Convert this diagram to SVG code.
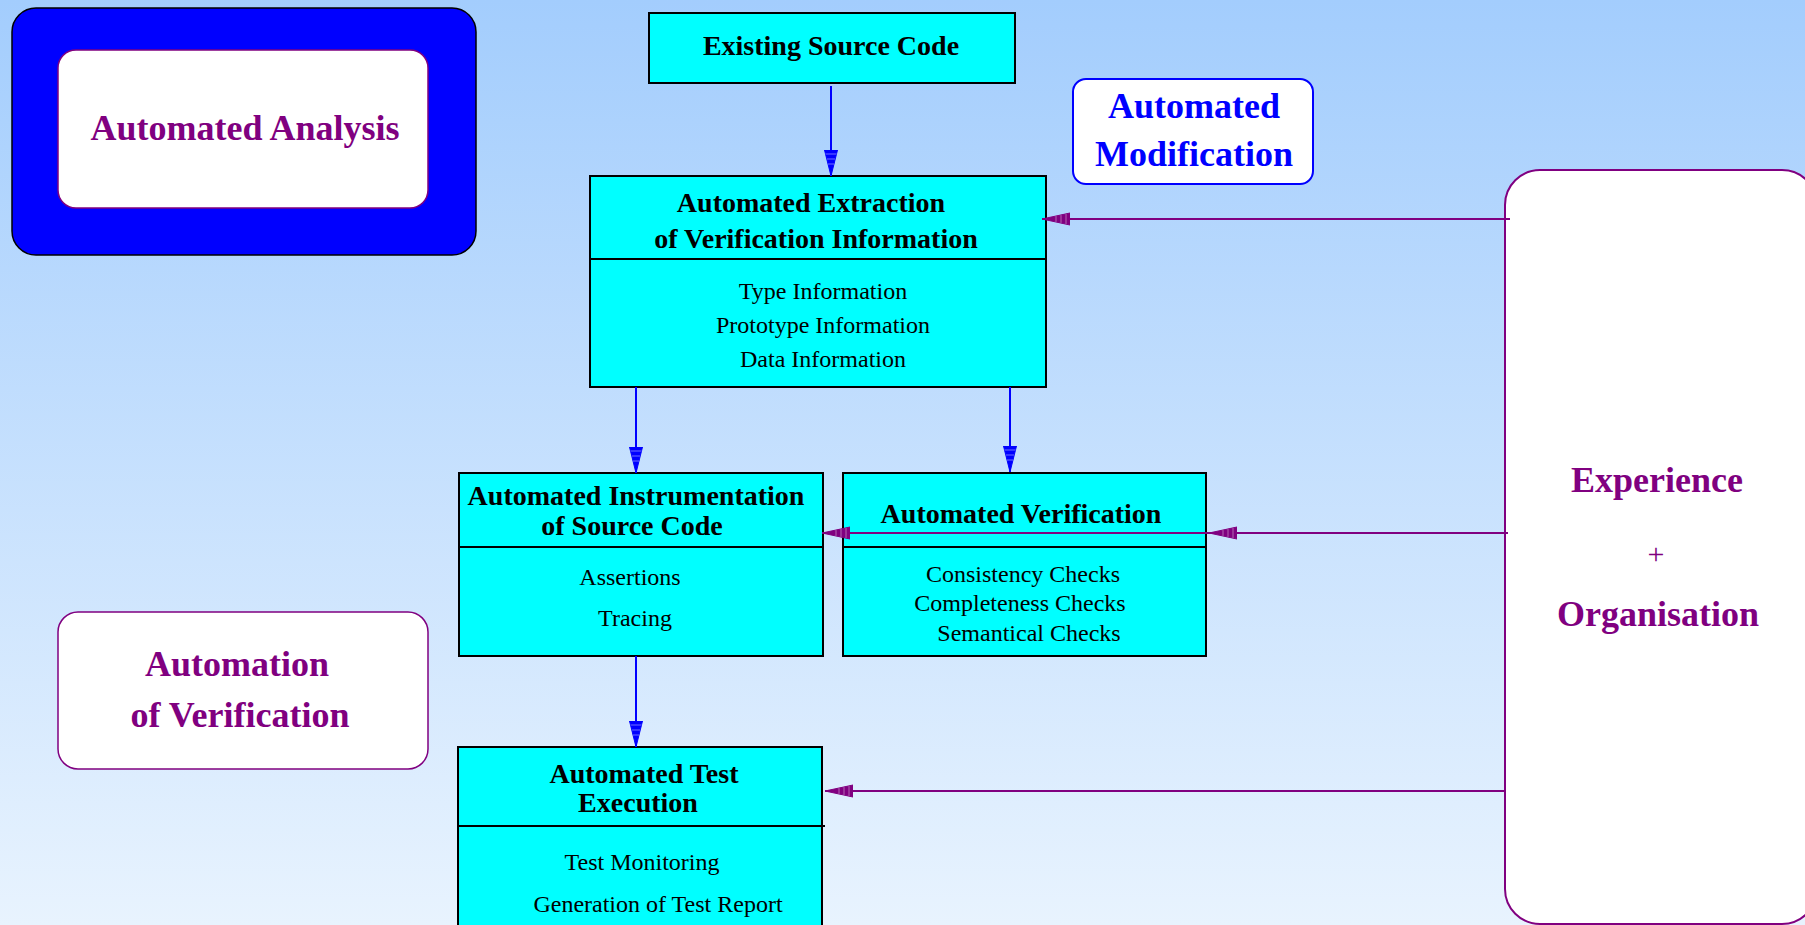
<svg xmlns="http://www.w3.org/2000/svg" width="1805" height="925" viewBox="0 0 1805 925">
<defs>
<linearGradient id="bg" x1="0" y1="0" x2="0" y2="1">
<stop offset="0" stop-color="#a3cdfd"/>
<stop offset="1" stop-color="#e8f3fe"/>
</linearGradient>
<marker id="ab" markerUnits="userSpaceOnUse" markerWidth="28" markerHeight="15" refX="26" refY="7" orient="auto" viewBox="0 0 28 15">
<path d="M0,0.5 L26,7 L0,13.5 z" fill="#0000ff" stroke="#0000ff" stroke-width="1"/>
<path d="M4,1.5 V12.5 M9,2.8 V11.2 M14,4 V10" stroke="#8c8cff" stroke-width="0.8"/>
</marker>
<marker id="ap" markerUnits="userSpaceOnUse" markerWidth="30" markerHeight="14" refX="28" refY="6.5" orient="auto" viewBox="0 0 30 14">
<path d="M0,0.5 L28,6.5 L0,12.5 z" fill="#800080" stroke="#800080" stroke-width="1"/>
<path d="M4,1.5 V11.5 M9,2.6 V10.4 M14,3.6 V9.4" stroke="#c080c0" stroke-width="0.8"/>
</marker>
<style>
.box{fill:#00ffff;stroke:#000;stroke-width:2}
.div{stroke:#000;stroke-width:2}
.t{font-family:"Liberation Serif","Times New Roman",serif;font-weight:bold;font-size:28px;fill:#000;text-anchor:middle}
.b{font-family:"Liberation Serif","Times New Roman",serif;font-size:24px;fill:#000;text-anchor:middle}
.lab{font-family:"Liberation Serif","Times New Roman",serif;font-weight:bold;font-size:36px;fill:#800080;text-anchor:middle}
.blue{stroke:#0000ff;stroke-width:2;fill:none}
.purp{stroke:#800080;stroke-width:2;fill:none}
</style>
</defs>
<rect x="0" y="0" width="1805" height="925" fill="url(#bg)"/>

<g id="automated-analysis">
<rect x="12" y="8" width="464" height="247" rx="24" fill="#0000ff" stroke="#000" stroke-width="1.5"/>
<rect x="58" y="50" width="370" height="158" rx="18" fill="#fff" stroke="#800080" stroke-width="1.5"/>
<text class="lab" x="245" y="140">Automated Analysis</text>
</g>

<g id="automated-modification">
<rect x="1073" y="79" width="240" height="105" rx="13" fill="#fff" stroke="#0000ff" stroke-width="2"/>
<text class="lab" x="1194" y="118" fill="#0000ff" style="fill:#0000ff">Automated</text>
<text class="lab" x="1194" y="166" style="fill:#0000ff">Modification</text>
</g>

<g id="automation-of-verification">
<rect x="58" y="612" width="370" height="157" rx="20" fill="#fff" stroke="#800080" stroke-width="1.5"/>
<text class="lab" x="237" y="676">Automation</text>
<text class="lab" x="240" y="727">of Verification</text>
</g>

<g id="experience-organisation">
<rect x="1505" y="170" width="312" height="754" rx="35" fill="#fff" stroke="#800080" stroke-width="2"/>
<text class="lab" x="1657" y="492">Experience</text>
<text class="lab" x="1656" y="564" style="font-weight:normal;font-size:30px">+</text>
<text class="lab" x="1658" y="626">Organisation</text>
</g>

<g id="existing-source-code">
<rect class="box" x="649" y="13" width="366" height="70"/>
<text class="t" x="831" y="55">Existing Source Code</text>
</g>

<g id="automated-extraction">
<rect class="box" x="590" y="176" width="456" height="211"/>
<line class="div" x1="590" y1="259" x2="1046" y2="259"/>
<text class="t" x="811" y="212">Automated Extraction</text>
<text class="t" x="816" y="248">of Verification Information</text>
<text class="b" x="823" y="299">Type Information</text>
<text class="b" x="823" y="333">Prototype Information</text>
<text class="b" x="823" y="367">Data Information</text>
</g>

<g id="automated-instrumentation">
<rect class="box" x="459" y="473" width="364" height="183"/>
<line class="div" x1="459" y1="547" x2="823" y2="547"/>
<text class="t" x="636" y="505">Automated Instrumentation</text>
<text class="t" x="632" y="535">of Source Code</text>
<text class="b" x="630" y="585">Assertions</text>
<text class="b" x="635" y="626">Tracing</text>
</g>

<g id="automated-verification">
<rect class="box" x="843" y="473" width="363" height="183"/>
<line class="div" x1="843" y1="547" x2="1206" y2="547"/>
<text class="t" x="1021" y="523">Automated Verification</text>
<text class="b" x="1023" y="582">Consistency Checks</text>
<text class="b" x="1020" y="611">Completeness Checks</text>
<text class="b" x="1029" y="641">Semantical Checks</text>
</g>

<g id="automated-test-execution">
<rect class="box" x="458" y="747" width="364" height="190"/>
<line class="div" x1="458" y1="826" x2="825" y2="826"/>
<text class="t" x="644" y="783">Automated Test</text>
<text class="t" x="638" y="812">Execution</text>
<text class="b" x="642" y="870">Test Monitoring</text>
<text class="b" x="658" y="912">Generation of Test Report</text>
</g>

<g id="connectors">
<line class="blue" x1="831" y1="86" x2="831" y2="176" marker-end="url(#ab)"/>
<line class="blue" x1="636" y1="387" x2="636" y2="473" marker-end="url(#ab)"/>
<line class="blue" x1="1010" y1="387" x2="1010" y2="472" marker-end="url(#ab)"/>
<line class="blue" x1="636" y1="656" x2="636" y2="747" marker-end="url(#ab)"/>
<line class="purp" x1="1510" y1="219" x2="1042" y2="219" marker-end="url(#ap)"/>
<line class="purp" x1="1508" y1="533" x2="1209" y2="533" marker-end="url(#ap)"/>
<line class="purp" x1="1209" y1="533" x2="822" y2="533" marker-end="url(#ap)"/>
<line class="purp" x1="1506" y1="791" x2="825" y2="791" marker-end="url(#ap)"/>
</g>
</svg>
